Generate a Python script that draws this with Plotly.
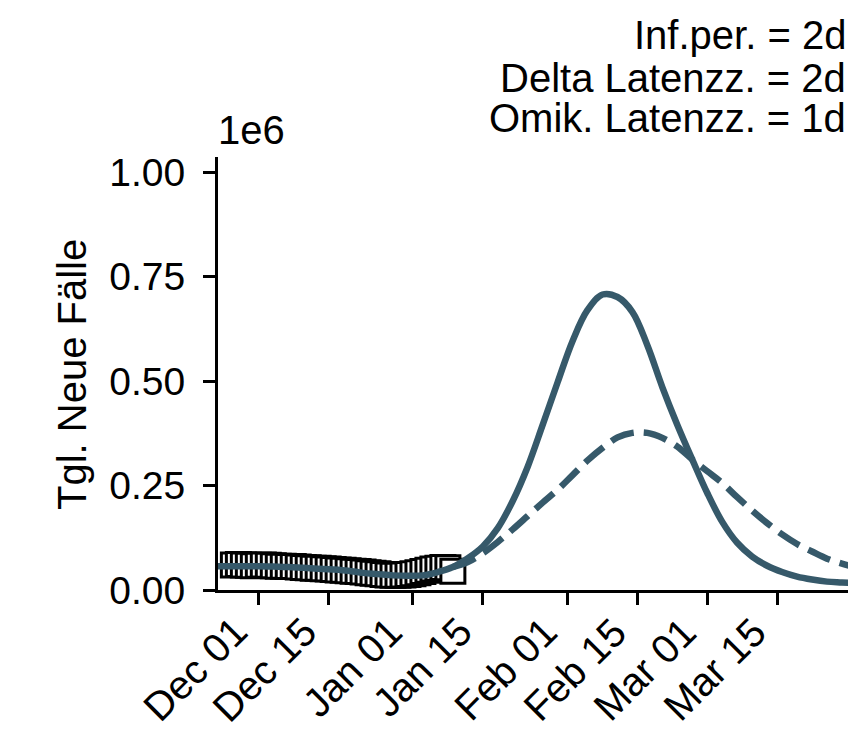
import pandas as pd
import plotly.graph_objects as go

# observed daily cases (millions), Nov 26 2021 .. Jan 09 2022
obs_start = "2021-11-26"
obs_vals = [0.060, 0.061, 0.060, 0.059, 0.058, 0.059, 0.060, 0.059, 0.058, 0.057,
            0.057, 0.056, 0.056, 0.055, 0.054, 0.053, 0.052, 0.052, 0.051, 0.050,
            0.049, 0.048, 0.047, 0.046, 0.045, 0.044, 0.043, 0.041, 0.040, 0.039,
            0.037, 0.036, 0.035, 0.035, 0.036, 0.037, 0.039, 0.041, 0.044, 0.047,
            0.050, 0.052, 0.054, 0.053, 0.045]

# model curves (millions), every 3 days
model_start = "2021-11-22"
solid_vals = [0.057, 0.057, 0.057, 0.057, 0.056, 0.055, 0.053, 0.051, 0.049, 0.046,
              0.041, 0.038, 0.035, 0.034, 0.035, 0.043, 0.055, 0.076, 0.104, 0.148,
              0.213, 0.295, 0.395, 0.497, 0.596, 0.670, 0.707, 0.701, 0.665, 0.585,
              0.485, 0.395, 0.312, 0.232, 0.163, 0.113, 0.080, 0.058, 0.043, 0.032,
              0.025, 0.020, 0.018, 0.016, 0.014]

dash_start = "2022-01-09"
dash_vals = [0.055, 0.067, 0.088, 0.115, 0.145, 0.177, 0.209, 0.240, 0.275, 0.310,
             0.340, 0.365, 0.376, 0.376, 0.364, 0.343, 0.312, 0.284, 0.256, 0.222,
             0.190, 0.160, 0.133, 0.110, 0.092, 0.075, 0.063, 0.054, 0.047]

tick_dates = ["2021-12-01", "2021-12-15", "2022-01-01", "2022-01-15",
              "2022-02-01", "2022-02-15", "2022-03-01", "2022-03-15"]
tick_text = ["Dec 01", "Dec 15", "Jan 01", "Jan 15", "Feb 01", "Feb 15", "Mar 01", "Mar 15"]

info_lines = ["Inf.per. = 2d", "Delta Latenzz. = 2d", "Omik. Latenzz. = 1d"]

TEAL = "#36596a"
FONT = "Arial, Liberation Sans, sans-serif"

obs_x = pd.date_range(obs_start, periods=len(obs_vals), freq="D")
solid_x = pd.date_range(model_start, periods=len(solid_vals), freq="3D")
dash_x = pd.date_range(dash_start, periods=len(dash_vals), freq="3D")

# the page puts an 8px body margin round the figure; size it so the page
# fits the window exactly and the plot area lands at x 218..848, y 157..590
PAD = 8
W, H = 856 - 2 * PAD, 738 - 2 * PAD
L, T = 218 - PAD, 157 - PAD
pw, ph = 848 - 218, 590 - 157
B = H - T - ph


def px_x(x):
    return (x - 218) / pw


def px_y(y):
    return (590 - y) / ph


fig = go.Figure()
fig.add_trace(go.Scatter(x=obs_x, y=obs_vals, mode="markers",
                         marker=dict(symbol="square", size=24, color="white",
                                     line=dict(color="black", width=3))))
fig.add_trace(go.Scatter(x=dash_x, y=dash_vals, mode="lines", line_shape="spline",
                         line=dict(color=TEAL, width=6.5, dash="24px,10px")))
fig.add_trace(go.Scatter(x=solid_x, y=solid_vals, mode="lines", line_shape="spline",
                         line=dict(color=TEAL, width=6.5)))

annotations = [
    dict(text="Tgl. Neue Fälle", textangle=-90, x=px_x(72), y=px_y(375),
         xanchor="center", yanchor="middle"),
    dict(text="1e6", x=px_x(216), y=px_y(154), xanchor="left", yanchor="bottom"),
]
for line, yc in zip(info_lines, [35, 78, 118]):
    annotations.append(dict(text=line, x=1.0, y=px_y(yc),
                            xanchor="right", yanchor="middle"))
for a in annotations:
    a.update(xref="paper", yref="paper")

# rotated date labels, anchored by the corner of their rotated box
for d, lab in zip(tick_dates, tick_text):
    annotations.append(dict(text=lab, x=d, xref="x", y=px_y(606), yref="paper",
                            textangle=-45, xanchor="right", yanchor="top"))

for a in annotations:
    a.update(showarrow=False, font=dict(size=40, color="black", family=FONT))

fig.update_layout(
    width=W, height=H,
    margin=dict(l=L, r=0, t=T, b=B),
    plot_bgcolor="white", paper_bgcolor="white",
    showlegend=False,
    font=dict(family=FONT, size=39, color="black"),
    annotations=annotations,
    xaxis=dict(range=["2021-11-22 22:00", "2022-03-29 05:00"],
               tickvals=tick_dates, showticklabels=False,
               showline=True, linecolor="black", linewidth=3,
               ticks="outside", ticklen=12, tickwidth=3, tickcolor="black",
               showgrid=False, zeroline=False, automargin=False),
    yaxis=dict(range=[0, 1.036], tickvals=[0, 0.25, 0.5, 0.75, 1.0],
               tickformat=".2f",
               showline=True, linecolor="black", linewidth=3,
               ticks="outside", ticklen=12, tickwidth=3, tickcolor="black",
               showgrid=False, zeroline=False, ticklabelstandoff=10,
               automargin=False),
)

fig.write_html("out.html")
